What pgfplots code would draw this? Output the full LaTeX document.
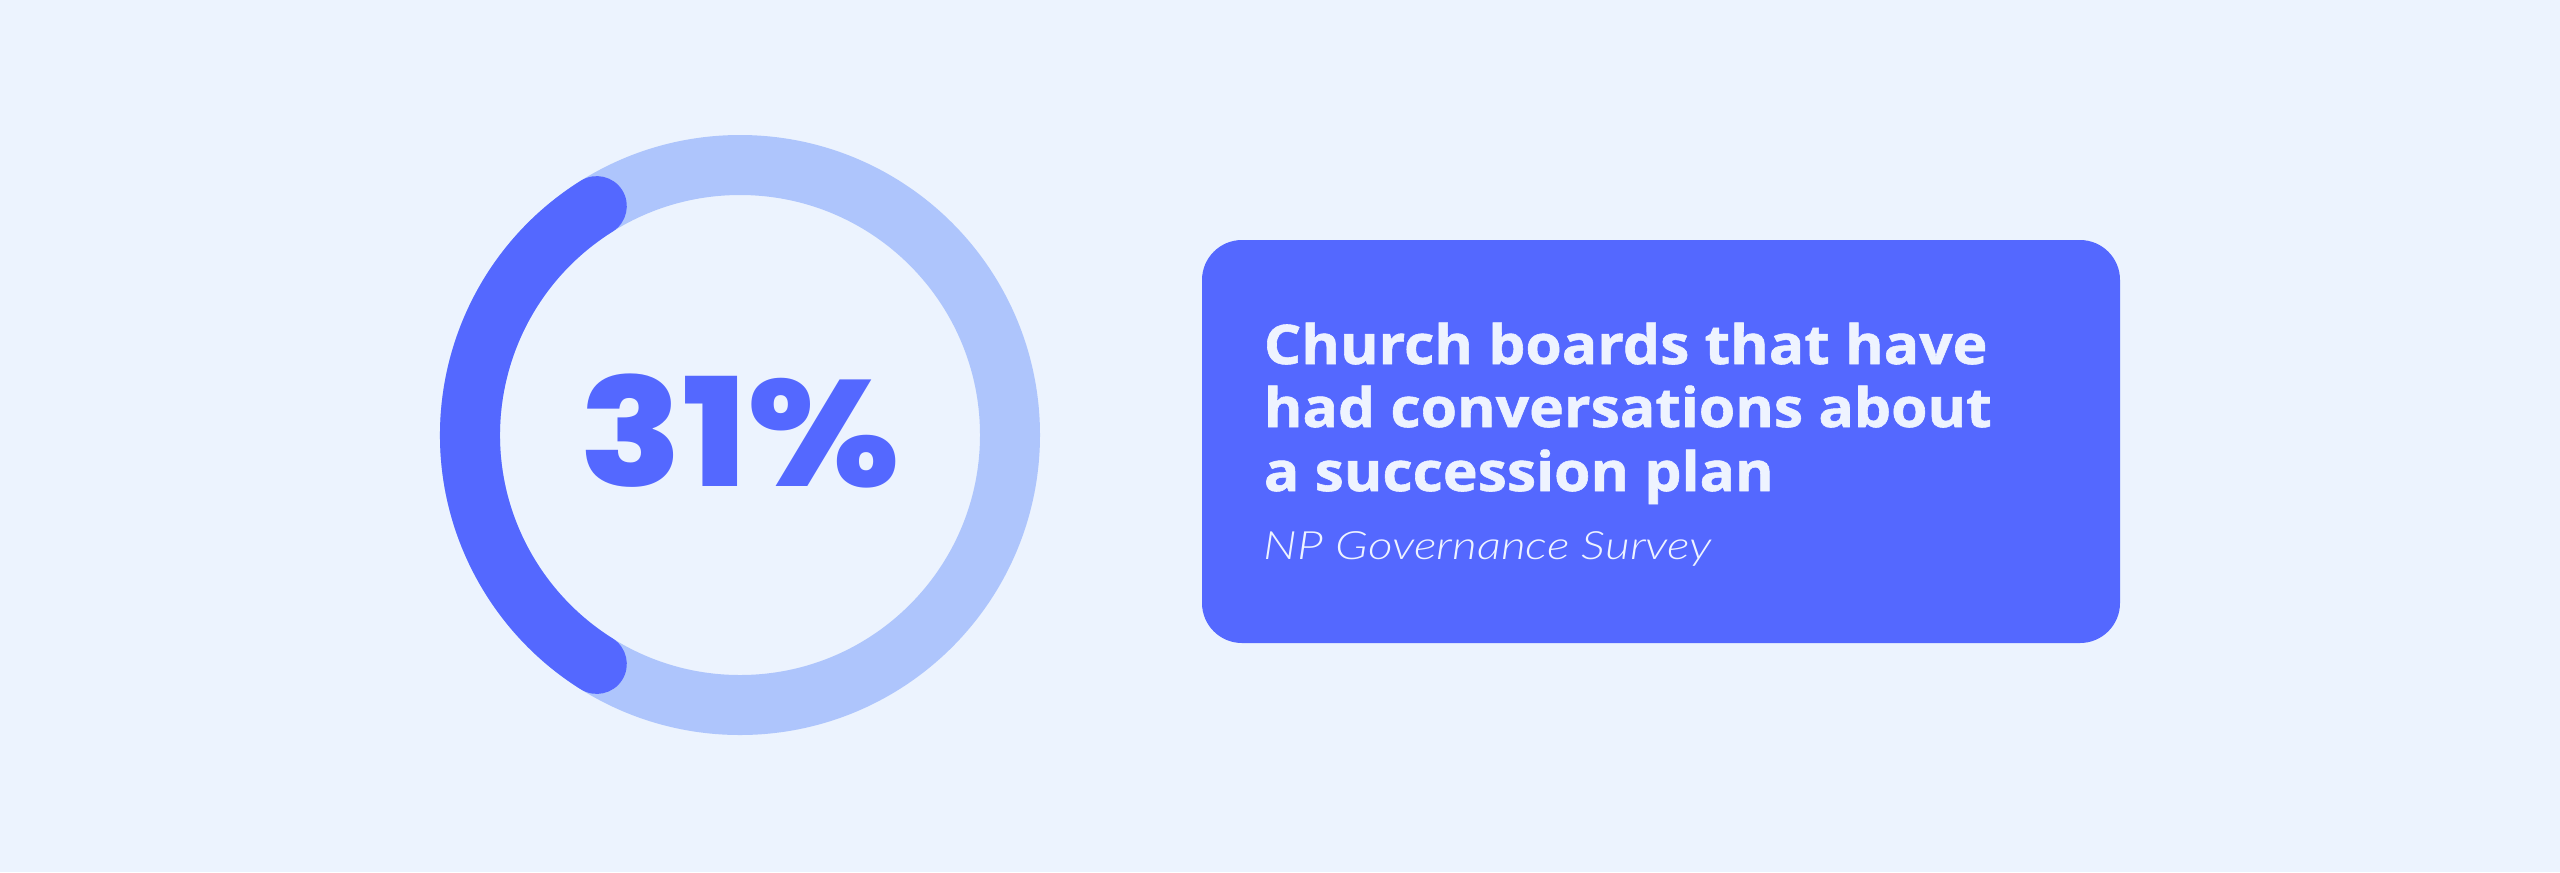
\documentclass[border=0pt]{standalone}
\usepackage{pgfplots}
\pgfplotsset{compat=1.18}
\usepackage{pgfplotstable}
\usepackage{fontspec}
\setmainfont{Open Sans}
\newfontfamily\ttl{Open Sans Bold}[FakeBold=1]
\newfontfamily\pop{Poppins ExtraBold}
\newfontfamily\sub{Lato Light Italic}
\definecolor{bg}{HTML}{ECF3FE}
\definecolor{ring}{HTML}{AEC5FC}
\definecolor{dark}{HTML}{5468FF}
\definecolor{txt}{HTML}{EEF3FF}
\pgfplotstableread{
label value
Yes 31
No 69
}\share
\pgfplotstablegetelem{0}{value}\of\share
\let\pct\pgfplotsretval
\pgfmathsetmacro\halfang{\pct*1.87}
\pgfmathsetmacro\startang{180-\halfang}
\pgfmathsetmacro\endang{180+\halfang}
\begin{document}
\begin{tikzpicture}
\begin{axis}[x=0.25pt,y=0.25pt,xmin=0,xmax=2560,ymin=0,ymax=872,hide axis,clip=false]
\fill[bg] (axis cs:0,0) rectangle (axis cs:2560,872);
\draw[ring,line width=15pt] (axis cs:740,437) circle[radius=67.5pt];
\draw[dark,line width=15pt,line cap=round] (axis cs:740,437) ++(\startang:67.5pt) arc[start angle=\startang,end angle=\endang,radius=67.5pt];
\node[dark,anchor=base,inner sep=0pt,xscale=1.12,font=\pop\fontsize{37.7pt}{38pt}\selectfont] at (axis cs:740,386) {31\%};
\fill[dark,rounded corners=10pt] (axis cs:1202,229) rectangle (axis cs:2120,632);
\begin{scope}[every node/.style={txt,anchor=base west,inner sep=0pt,xscale=1.077,font=\ttl\fontsize{13.65pt}{14pt}\selectfont}]
\node at (axis cs:1263,508) {Church boards that have};
\node at (axis cs:1263,445) {had conversations about};
\node at (axis cs:1263,381) {a succession plan};
\end{scope}
\node[txt,anchor=base west,inner sep=0pt,xscale=1.23,font=\sub\fontsize{9.76pt}{10pt}\selectfont] at (axis cs:1263,313) {NP Governance Survey};
\end{axis}
\end{tikzpicture}
\end{document}
